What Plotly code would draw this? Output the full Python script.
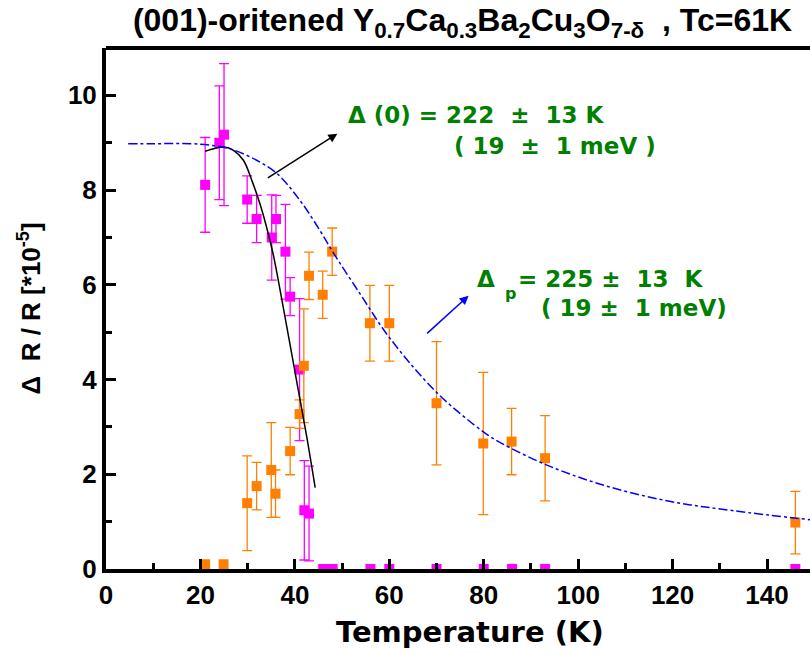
import plotly.graph_objects as go

# ---- data ----
mag_T = [21.0, 24.0, 25.0, 29.9, 31.9, 35.1, 36.0, 38.0, 39.0, 41.0, 42.0, 43.0]
mag_y = [8.11, 9.00, 9.17, 7.80, 7.39, 7.00, 7.39, 6.70, 5.75, 4.21, 1.24, 1.17]
mag_err = [1.0, 1.2, 1.5, 0.5, 0.5, 0.9, 0.5, 1.0, 0.4, 1.5, 1.05, 1.0]
mag0_T = [46, 48, 56, 60, 70, 80, 86, 93, 146]
mag0_y = [0, 0, 0, 0, 0, 0, 0, 0, 0]

org_T = [29.9, 31.9, 35.0, 35.9, 39.0, 41.0, 41.9, 43.0, 45.9, 47.9, 55.9, 60.0, 70.0, 79.9, 85.9, 93.0, 146.0]
org_y = [1.39, 1.75, 2.09, 1.59, 2.49, 3.27, 4.29, 6.19, 5.79, 6.70, 5.19, 5.19, 3.50, 2.65, 2.69, 2.34, 0.98]
org_err = [1.0, 0.5, 1.0, 0.5, 0.5, 0.3, 1.2, 0.5, 0.5, 0.5, 0.8, 0.8, 1.3, 1.5, 0.7, 0.9, 0.66]
org0_T = [21.0, 24.9]
org0_y = [0.1, 0.1]

fit1_T = [21, 23, 25, 27, 29.1, 30.9, 32.6, 34.0, 35.4, 36.5, 38.5, 40.5, 42.5, 44.3]
fit1_y = [8.82, 8.88, 8.91, 8.84, 8.63, 8.20, 7.71, 7.22, 6.65, 6.09, 5.00, 3.90, 2.80, 1.72]

fit2_T = [4.7, 10, 17.8, 22, 26.3, 31.9, 36.2, 41.1, 45.3, 48, 54, 60, 70, 80, 83.5, 93, 104.7, 118.8, 132.9, 149.2]
fit2_y = [8.98, 8.98, 8.98, 8.95, 8.87, 8.63, 8.35, 7.78, 7.15, 6.70, 5.78, 4.89, 3.73, 2.89, 2.67, 2.21, 1.79, 1.44, 1.23, 1.04]

x_ticks = [0, 20, 40, 60, 80, 100, 120, 140]
y_ticks = [0, 2, 4, 6, 8, 10]

MAG = "#FF00FF"
ORG = "#FF8000"
GREEN = "#008000"
TICKFONT = "Liberation Sans, Arial, sans-serif"
WIDEFONT = "DejaVu Sans, sans-serif"

fig = go.Figure()
fig.add_trace(go.Scatter(x=mag_T, y=mag_y, mode="markers",
                         marker=dict(symbol="square", size=10, color=MAG),
                         error_y=dict(type="data", array=mag_err, color=MAG, thickness=1.3, width=5)))
fig.add_trace(go.Scatter(x=mag0_T, y=mag0_y, mode="markers",
                         marker=dict(symbol="square", size=10, color=MAG)))
fig.add_trace(go.Scatter(x=org_T, y=org_y, mode="markers",
                         marker=dict(symbol="square", size=10, color=ORG),
                         error_y=dict(type="data", array=org_err, color=ORG, thickness=1.3, width=5)))
fig.add_trace(go.Scatter(x=org0_T, y=org0_y, mode="markers",
                         marker=dict(symbol="square", size=10, color=ORG)))
fig.add_trace(go.Scatter(x=fit1_T, y=fit1_y, mode="lines", line=dict(color="black", width=1.5, shape="spline")))
fig.add_trace(go.Scatter(x=fit2_T, y=fit2_y, mode="lines", line=dict(color="#0000FF", width=1.5, dash="dashdot", shape="spline")))

axis_common = dict(showgrid=False, zeroline=False, showline=True, linecolor="black", linewidth=4,
                   ticks="inside", ticklen=10, tickwidth=3, tickcolor="black",
                   tickfont=dict(family=TICKFONT, size=26, color="black", weight="bold"))

fig.update_xaxes(range=[0, 149.1], tickvals=x_ticks, **axis_common,
                 minor=dict(ticks="inside", dtick=10, tick0=0, ticklen=6, tickwidth=3, tickcolor="black"))
fig.update_yaxes(range=[0, 11], tickvals=y_ticks, **axis_common,
                 minor=dict(ticks="inside", dtick=1, tick0=0, ticklen=6, tickwidth=3, tickcolor="black"))

ann = []
def txt(x, y, s, size=23, color=GREEN, font=WIDEFONT, xanchor="left"):
    ann.append(dict(x=x, y=y, xref="x", yref="y", text=s, showarrow=False, xanchor=xanchor, yanchor="middle",
                    borderpad=0, font=dict(family=font, size=size, color=color, weight="bold")))

txt(51.1, 9.58, "Δ (0) = 222  ±  13 K")
txt(73.5, 8.94, "( 19  ±  1 meV )")
txt(78.4, 6.13, "Δ")
txt(84.3, 5.81, "p", size=16)
txt(87.0, 6.13, "= 225 ±  13  K")
txt(91.9, 5.52, "( 19 ±  1 meV)")

# arrows
ann.append(dict(x=49.0, y=9.19, xref="x", yref="y", ax=-71, ay=45, text="", showarrow=True,
                arrowhead=2, arrowsize=1.2, arrowwidth=1.5, arrowcolor="black"))
ann.append(dict(x=76.8, y=5.77, xref="x", yref="y", ax=-43, ay=39, text="", showarrow=True,
                arrowhead=2, arrowsize=1.2, arrowwidth=1.5, arrowcolor="#0000FF"))

# axis titles
ann.append(dict(x=0.517, y=-0.121, xref="paper", yref="paper", text="Temperature (K)", showarrow=False,
                xanchor="center", yanchor="middle",
                font=dict(family=WIDEFONT, size=29, color="black", weight="bold")))
ann.append(dict(x=-0.108, y=0.50, xref="paper", yref="paper", text="Δ  R / R [*10<sup>-5</sup>]",
                showarrow=False, textangle=-90, xanchor="center", yanchor="middle",
                font=dict(family=TICKFONT, size=26, color="black", weight="bold")))

fig.update_layout(
    width=810, height=654, showlegend=False,
    paper_bgcolor="white", plot_bgcolor="white",
    margin=dict(l=106, r=0, t=48, b=85),
    title=dict(text="(001)-oritened Y<sub>0.7</sub>Ca<sub>0.3</sub>Ba<sub>2</sub>Cu<sub>3</sub>O<sub>7-δ</sub>  , Tc=61K",
               x=0.571, xanchor="center", y=0.97, yanchor="middle", xref="container",
               font=dict(family=TICKFONT, size=32, color="black", weight="bold")),
    annotations=ann,
    shapes=[dict(type="line", xref="paper", yref="paper", x0=0, x1=1, y0=1, y1=1,
                 line=dict(color="black", width=4))],
)

fig.write_html("out.html")
